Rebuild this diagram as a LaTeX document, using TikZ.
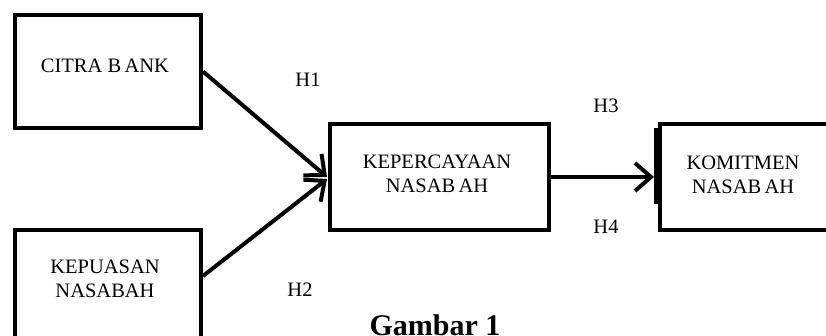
\documentclass[tikz,border=0pt]{standalone}
\usepackage{fontspec}
\setmainfont{Liberation Serif}
\usetikzlibrary{arrows.meta}
\begin{document}
\begin{tikzpicture}[x=1pt,y=-1pt,
  box/.style={draw=black,line width=4pt,rectangle,inner sep=0pt,anchor=north west},
  lbl/.style={font=\fontsize{20.5}{24.5}\selectfont,align=center,inner sep=0pt},
  conn/.style={line width=4pt,-{Straight Barb[length=16pt,width=28pt,line width=4pt]}}
]
\useasboundingbox (0,0) rectangle (826,335);
\node[box,minimum width=186pt,minimum height=113pt] (cb) at (13,13) {};
\node[box,minimum width=186pt,minimum height=140pt] (kp) at (13,228) {};
\node[box,minimum width=219pt,minimum height=106pt] (kc) at (328,122) {};
\node[box,minimum width=180pt,minimum height=106pt] (km) at (658,122) {};
\draw[line width=4pt] ([xshift=-2pt,yshift=-6pt]km.north west) -- ([xshift=-2pt,yshift=-82pt]km.north west);
\node[lbl] (tcb) at (105,66) {CITRA B\,ANK};
\node[lbl] (tkp) at (105,279) {KEPUASAN\\NASABAH};
\node[lbl] (tkc) at (437,174) {KEPERCAYAAN\\NASAB\,AH};
\node[lbl] (tkm) at (743,175) {KOMITMEN\\NASAB\,AH};
\node[lbl] (h1) at (308,80) {H1};
\node[lbl] (h2) at (300,290) {H2};
\node[lbl] (h3) at (606,106) {H3};
\node[lbl] (h4) at (606,227) {H4};
\node[font=\fontsize{30}{34}\selectfont\bfseries,anchor=base,inner sep=0pt] (cap) at (435,335) {Gambar 1};
\draw[conn] (cb.east) -- ([xshift=-1pt]kc.west);
\draw[conn] ([yshift=-48pt]kp.north east) -- ([xshift=-1pt,yshift=-2pt]kc.west);
\draw[conn] (kc.east) -- ([xshift=-4pt]km.west);
\end{tikzpicture}
\end{document}
